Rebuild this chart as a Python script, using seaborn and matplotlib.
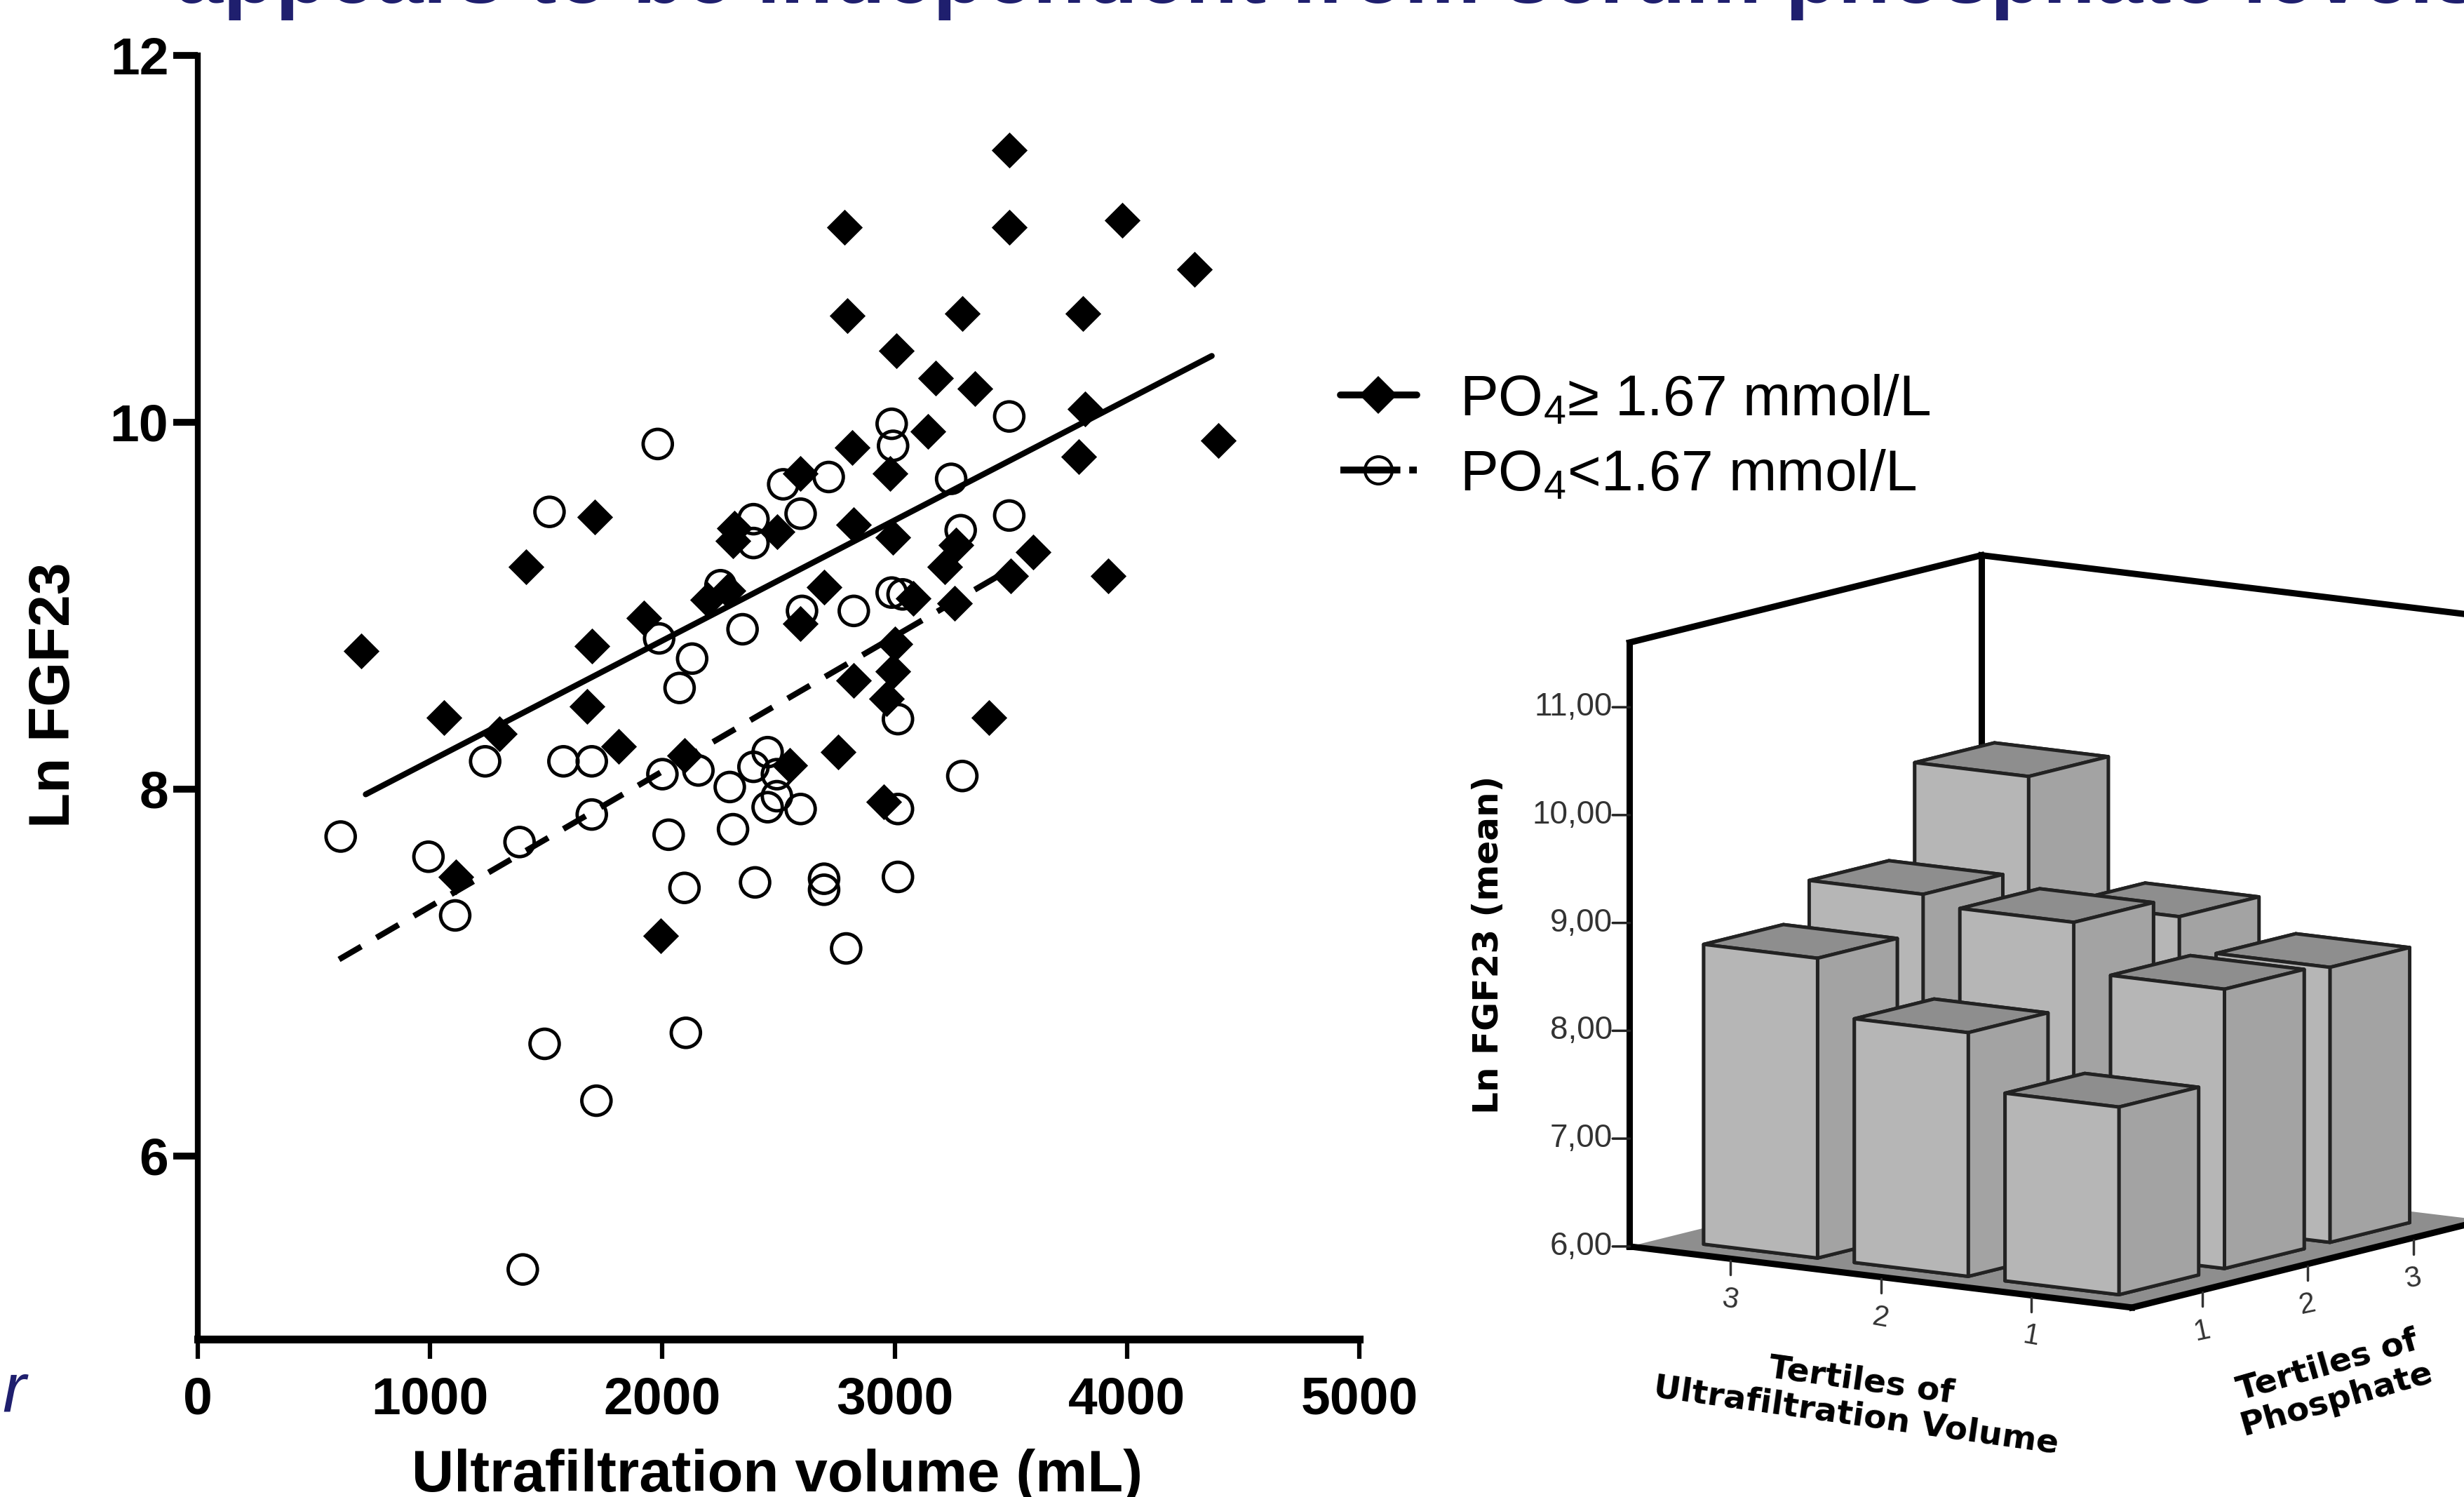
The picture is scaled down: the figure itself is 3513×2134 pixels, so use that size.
import numpy as np
import seaborn as sns
import matplotlib
matplotlib.use('Agg')
import matplotlib.pyplot as plt
from matplotlib.lines import Line2D
from mpl_toolkits.mplot3d import proj3d
from mpl_toolkits.mplot3d.art3d import Poly3DCollection

# PO4 >= 1.67 mmol/L
high_x = [703, 1060, 1110, 1297, 1412, 1710, 1696, 1676, 1811, 1920, 1993, 2095, 2196, 2284, 2311, 2304,
          2493, 2547, 2595, 2595, 2696, 2784, 2797, 2818, 2824, 2824, 2757, 2953, 2966, 2993, 3000, 2993,
          2980, 3007, 3142, 3176, 3291, 3345, 3257, 3216, 3264, 3081, 3405, 3500, 3595, 3493, 3493, 3980,
          4291, 3811, 3818, 3791, 3919, 4392]
high_y = [8.75, 8.39, 7.52, 8.30, 9.21, 9.48, 8.78, 8.45, 8.23, 8.93, 7.20, 8.18, 9.03, 9.08, 9.42, 9.35,
          9.40, 8.13, 8.90, 9.72, 9.10, 11.06, 10.58, 9.86, 9.44, 8.59, 8.20, 7.93, 8.49, 8.64, 8.79, 9.37,
          9.72, 10.39, 9.95, 10.24, 10.59, 10.18, 9.01, 9.21, 9.33, 9.04, 8.39, 9.16, 9.29, 11.48, 11.06, 11.10,
          10.83, 10.59, 10.07, 9.81, 9.16, 9.90]

# PO4 < 1.67 mmol/L
low_x = [615, 993, 1108, 1237, 1385, 1399, 1493, 1514, 1574, 1696, 1696, 1716, 1980, 1986, 2000, 2027, 2074,
         2095, 2101, 2128, 2155, 2250, 2290, 2304, 2345, 2392, 2392, 2392, 2399, 2453, 2453, 2493, 2493, 2520,
         2595, 2601, 2595, 2696, 2696, 2716, 2791, 2824, 2987, 2993, 2987, 3014, 3014, 3014, 3034, 3243, 3284,
         3291, 3493, 3493]
low_y = [7.74, 7.63, 7.31, 8.15, 7.71, 5.38, 6.61, 9.51, 8.15, 8.15, 7.86, 6.30, 9.88, 8.82, 8.08, 7.75, 8.55,
         7.46, 6.67, 8.71, 8.10, 9.11, 8.01, 7.78, 8.87, 9.34, 9.47, 8.12, 7.49, 7.90, 8.20, 7.96, 8.08, 9.66,
         9.50, 8.97, 7.89, 7.51, 7.45, 9.70, 7.13, 8.97, 9.99, 9.87, 9.07, 7.89, 8.38, 7.52, 9.06, 9.69, 9.41,
         8.07, 10.03, 9.49]

# fitted lines
high_fit_x = [723, 4365]
high_fit_y = [7.97, 10.36]
low_fit_x = [608, 3473]
low_fit_y = [7.07, 9.18]

x_ticks = [0, 1000, 2000, 3000, 4000, 5000]
y_ticks = [6, 8, 10, 12]

# 3D bars, mean Ln FGF23
uf_tertiles = [3, 2, 1]
phosphate_tertiles = [1, 2, 3]
fgf23_uf3 = [8.78, 9.13, 9.98]
fgf23_uf2 = [8.26, 9.04, 8.85]
fgf23_uf1 = [7.74, 8.59, 8.55]
z_ticks = [6, 7, 8, 9, 10, 11]

title_text = 'appears to be independent from serum phosphate levels'
navy = '#1f1f6e'
W, H = 3513, 2134

sns.set_style('ticks')
plt.rcParams['font.family'] = ['Liberation Sans', 'DejaVu Sans']
plt.rcParams['mathtext.default'] = 'regular'
plt.rcParams['text.color'] = 'black'
plt.rcParams['axes.edgecolor'] = 'black'
plt.rcParams['xtick.color'] = 'black'
plt.rcParams['ytick.color'] = 'black'

fig = plt.figure(figsize=(W / 100, H / 100), dpi=100)
fig.text(250 / W, 1 - 4 / H, title_text, fontsize=88, fontweight='bold', color=navy, va='baseline', ha='left')
fig.text(3 / W, 1 - 2013 / H, 'r', fontsize=72, style='italic', color=navy, va='baseline', ha='left')

# scatter panel
ax = fig.add_axes([282 / W, 1 - 1909 / H, (1938 - 282) / W, (1909 - 78.5) / H])
sns.scatterplot(x=low_x, y=low_y, ax=ax, marker='o', s=900, facecolor='none', edgecolor='black', linewidth=3.5)
sns.scatterplot(x=high_x, y=high_y, ax=ax, marker='D', s=680, color='black', linewidth=0)
sns.lineplot(x=high_fit_x, y=high_fit_y, ax=ax, color='black', linewidth=6, errorbar=None)
sns.lineplot(x=low_fit_x, y=low_fit_y, ax=ax, color='black', linewidth=6, errorbar=None, linestyle=(0, (4.4, 3)))
ax.set_xlim(0, 5000)
ax.set_ylim(5, 12)
ax.set_xticks(x_ticks)
ax.set_yticks(y_ticks)
ax.patch.set_alpha(0)
sns.despine(ax=ax)
ax.spines['left'].set_linewidth(6)
ax.spines['bottom'].set_linewidth(8)
ax.tick_params(axis='x', length=20, width=4.5, labelsize=54, pad=18)
ax.tick_params(axis='y', length=25, width=7, labelsize=54, pad=5)
for lab in ax.get_xticklabels() + ax.get_yticklabels():
    lab.set_fontweight('bold')
fig.text(1108 / W, 1 - 2126 / H, 'Ultrafiltration volume (mL)', fontsize=60, fontweight='bold', ha='center', va='baseline')
fig.text(78 / W, 1 - 991 / H, 'Ln FGF23', fontsize=59, fontweight='bold', rotation=90, ha='center', va='center')

handles = [
    Line2D([], [], color='black', lw=7, marker='D', ms=27, mfc='black', mew=0),
    Line2D([], [], color='black', lw=7, ls=(0, (8.8, 1.3, 1.4, 5)), marker='o', ms=28, mfc='none', mec='black', mew=3),
]
fig.legend(handles, [r'PO$_4$≥ 1.67 mmol/L', r'PO$_4$<1.67 mmol/L'], loc='upper left',
           bbox_to_anchor=(1911 / W, 1 - 533 / H), frameon=False, fontsize=59, handlelength=1.33,
           handletextpad=0.75, labelspacing=0.38, borderpad=0, borderaxespad=0)

# 3D bar panel
ax3 = fig.add_axes([(2150 - 18) / W, 1 - (2080 + 18) / H, 1560 / W, 1500 / H], projection='3d', computed_zorder=False)
ax3.set_proj_type('ortho')
ax3.view_init(elev=10, azim=-55)
ax3.set_box_aspect((1, 1, 1), zoom=0.98)
ax3.set_xlim(0, 3)
ax3.set_ylim(0, 3)
z_top = 11.6
ax3.set_zlim(6, z_top)
ax3.set_axis_off()
ax3.patch.set_alpha(0)

floor = Poly3DCollection([[(0, 0, 6), (3, 0, 6), (3, 3, 6), (0, 3, 6)]], facecolor='#8e8e8e', edgecolor='none', zorder=0)
ax3.add_collection3d(floor)
wall_lines = [([0, 0], [0, 0], [6, z_top]), ([0, 0], [0, 3], [z_top, z_top]), ([0, 0], [3, 3], [6, z_top]),
              ([0, 3], [3, 3], [z_top, z_top]), ([3, 3], [3, 3], [6, z_top]),
              ([0, 3], [0, 0], [6, 6]), ([3, 3], [0, 3], [6, 6])]
for xs, ys, zs in wall_lines:
    ax3.plot(xs, ys, zs, color='black', lw=6.5, zorder=1, solid_capstyle='projecting')

bar_w = 0.68
bar_pos = [0.26, 1.16, 2.06]
face_cols = ['#8e8e8e', '#8e8e8e', '#b6b6b6', '#b6b6b6', '#a3a3a3', '#a3a3a3']
fgf23 = [fgf23_uf3, fgf23_uf2, fgf23_uf1]
order = 2
for i in range(3):
    for j in [2, 1, 0]:
        ax3.bar3d(bar_pos[i], bar_pos[j], 6, bar_w, bar_w, fgf23[i][j] - 6, color=face_cols, shade=False,
                  edgecolor='#222222', linewidth=3.5, zorder=order)
        order += 1

# labels are placed in 2D at the projected spot of their 3D position
fig.canvas.draw()
def label3d(x, y, z, s, **kw):
    xp, yp, _ = proj3d.proj_transform(x, y, z, ax3.M)
    ax3.text2D(xp, yp, s, transform=ax3.transData, color='#333333', zorder=30, **kw)

dx, dy = -0.068, -0.048
for z in z_ticks:
    ax3.plot([0, dx], [0, dy], [z, z], color='#222222', lw=2.5, zorder=1)
    label3d(dx, dy, z, f'{z},00', fontsize=33, ha='right', va='center')
for i, t in enumerate(uf_tertiles):
    c = bar_pos[i] + bar_w / 2
    ax3.plot([c, c], [0, 0], [5.98, 5.85], color='#333333', lw=2.5, zorder=30)
    label3d(c, 0, 5.62, str(t), fontsize=30, rotation=-10, ha='center', va='center')
for j, t in enumerate(phosphate_tertiles):
    c = bar_pos[j] + bar_w / 2
    ax3.plot([3, 3], [c, c], [5.98, 5.85], color='#333333', lw=2.5, zorder=30)
    label3d(3, c, 5.62, str(t), fontsize=30, rotation=12, ha='center', va='center')

label_font = ['DejaVu Sans']
fig.text(2122 / W, 1 - 1347 / H, 'Ln FGF23 (mean)', fontsize=36, fontweight='bold', family=label_font, rotation=90,
         ha='center', va='center')
fig.text(2650 / W, 1 - 1994 / H, 'Tertiles of\nUltrafiltration Volume', fontsize=34, fontweight='bold', family=label_font,
         rotation=-8, ha='center', va='center', linespacing=1.15, rotation_mode='anchor')
fig.text(3325 / W, 1 - 1971 / H, 'Tertiles of\nPhosphate', fontsize=34, fontweight='bold', family=label_font,
         rotation=16, ha='center', va='center', linespacing=1.15, rotation_mode='anchor')

fig.savefig('out.png', dpi=100)
